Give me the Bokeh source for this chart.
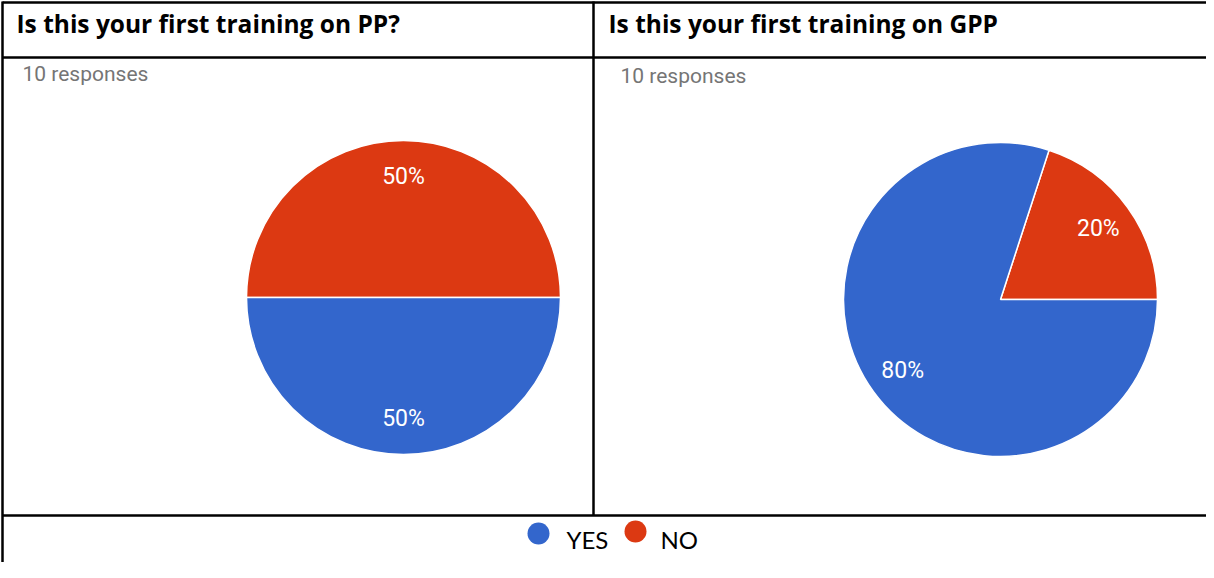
import math
from bokeh.plotting import figure
from bokeh.models import Range1d, ColumnDataSource
from bokeh.core.properties import value
from bokeh.embed import file_html
from bokeh.resources import INLINE

# ---- data ----
titles = ["Is this your first training on PP?", "Is this your first training on GPP"]
responses = ["10 responses", "10 responses"]
categories = ["YES", "NO"]
colors = ["#3366CC", "#DC3912"]
pp_counts = [5, 5]     # YES, NO
gpp_counts = [8, 2]    # YES, NO

W, H = 1206, 562
p = figure(width=W, height=H, output_backend="svg", toolbar_location=None,
           x_range=Range1d(8, 8 + W), y_range=Range1d(578 - 8 - H, 570),
           min_border=0, outline_line_color=None)
p.axis.visible = False
p.grid.visible = False
p.background_fill_color = "white"

def Y(ys):
    return 578 - ys

# table lines
lw = 2.5
p.segment(x0=[10, 10, 10, 10, 601], y0=[Y(10), Y(65), Y(523), Y(9), Y(9)],
          x1=[1214, 1214, 1214, 10, 601], y1=[Y(10), Y(65), Y(523), Y(578), Y(523)],
          line_color="black", line_width=lw)

# headers
p.text(x=[24, 616], y=[Y(31), Y(31)], text=titles, text_font=value("Open Sans"),
       text_font_style="bold", text_font_size="24.5px", text_baseline="middle",
       text_color="black")
# "10 responses"
p.text(x=[30, 628], y=[Y(81), Y(83)], text=responses, text_font=value("Roboto"),
       text_font_size="21px", text_baseline="middle", text_color="#757575")

def pie(cx, cy, r, counts):
    total = sum(counts)
    order = [1, 0]  # NO first, counterclockwise from east
    start = 0.0
    starts, ends, cols, labs, lx, ly = [], [], [], [], [], []
    for i in order:
        frac = counts[i] / total
        end = start + frac * 2 * math.pi
        starts.append(start); ends.append(end); cols.append(colors[i])
        mid = (start + end) / 2
        labs.append(f"{round(frac * 100)}%")
        lx.append(cx + 0.77 * r * math.cos(mid))
        ly.append(Y(cy) + 0.77 * r * math.sin(mid))
        start = end
    src = ColumnDataSource(dict(x=[cx] * len(starts), y=[Y(cy)] * len(starts),
                                s=starts, e=ends, c=cols))
    p.wedge(x="x", y="y", radius=r, start_angle="s", end_angle="e",
            fill_color="c", line_color="white", line_width=1.5, source=src)
    p.text(x=lx, y=ly, text=labs, text_font=value("Roboto"), text_font_size="23px",
           text_align="center", text_baseline="middle", text_color="white")

pie(411, 305, 157, pp_counts)
pie(1008, 307, 157, gpp_counts)

# legend
p.scatter(x=[546, 643], y=[Y(541), Y(539)], size=22, marker="circle",
          fill_color=colors, line_color=None)
p.text(x=[574, 668], y=[Y(547), Y(547)], text=categories, text_font=value("Lato"),
       text_font_size="24px", text_baseline="middle", text_color="black")

open("out.html", "w").write(file_html(p, INLINE))
